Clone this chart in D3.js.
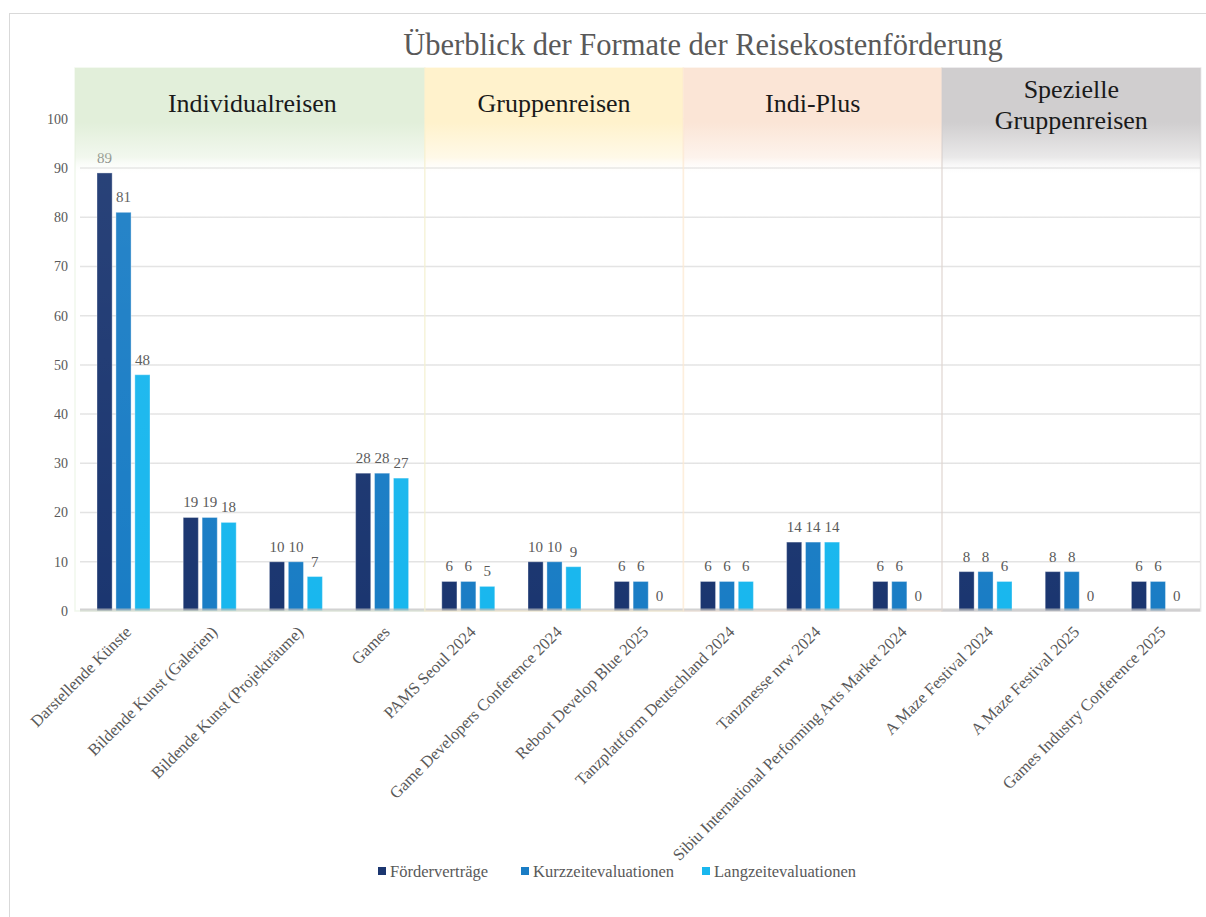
<!DOCTYPE html>
<html>
<head>
<meta charset="utf-8">
<script src="https://cdn.jsdelivr.net/npm/d3@7"></script>
<style>
  body { margin: 0; background: #fff; }
  svg { display: block; font-family: "Liberation Serif", "DejaVu Serif", serif; }
</style>
</head>
<body>
<svg></svg>
<script>
const width = 1206;
const height = 917;
const margin = ({top: 118.8, right: 6, bottom: 306, left: 80});

const categories = [
    "Darstellende Künste", "Bildende Kunst (Galerien)", "Bildende Kunst (Projekträume)", "Games",
    "PAMS Seoul 2024", "Game Developers Conference 2024", "Reboot Develop Blue 2025",
    "Tanzplattform Deutschland 2024", "Tanzmesse nrw 2024", "Sibiu International Performing Arts Market  2024",
    "A Maze Festival 2024", "A Maze Festival 2025", "Games Industry Conference 2025"
];
const seriesNames = ["Förderverträge", "Kurzzeitevaluationen", "Langzeitevaluationen"];
const foerdervertraege = [89, 19, 10, 28, 6, 10, 6, 6, 14, 6, 8, 8, 6];
const kurzzeit = [81, 19, 10, 28, 6, 10, 6, 6, 14, 6, 8, 8, 6];
const langzeit = [48, 18, 7, 27, 5, 9, 0, 6, 14, 0, 6, 0, 0];
const yTicks = [0, 10, 20, 30, 40, 50, 60, 70, 80, 90, 100];
const groupNames = [["Individualreisen"], ["Gruppenreisen"], ["Indi-Plus"], ["Spezielle", "Gruppenreisen"]];
const groupFirst = [0, 4, 7, 10];
const groupLast = [3, 6, 9, 12];
const groupColors = ["#e2efda", "#fff2cc", "#fbe5d6", "#d0cecf"];
const seriesColors = ["#1b3670", "#1a7dc5", "#19b7ee"];

const data = categories.map((c, i) => ({
    cat: c,
    values: [foerdervertraege[i], kurzzeit[i], langzeit[i]]
}));

const svg = d3.select("svg")
    .attr("width", width)
    .attr("height", height)
    .attr("viewBox", [0, 0, width, height]);

// outer frame
svg.append("rect")
    .attr("x", 9.5).attr("y", 13.5)
    .attr("width", 1200).attr("height", 930)
    .attr("fill", "none")
    .attr("stroke", "#d9d9d9");

const x = d3.scaleBand()
    .domain(categories)
    .range([margin.left, 1200.6]);

const x1 = d3.scaleBand()
    .domain(seriesNames)
    .range([17, 70])
    .paddingInner(0.2);

const y = d3.scaleLinear()
    .domain([0, 100])
    .range([height - margin.bottom, margin.top]);

// gridlines
svg.append("g")
    .selectAll("line")
    .data(yTicks.filter(d => d > 0))
    .join("line")
    .attr("x1", margin.left)
    .attr("x2", 1200)
    .attr("y1", d => y(d))
    .attr("y2", d => y(d))
    .attr("stroke", "#e3e3e3")
    .attr("stroke-width", 1.5);

// y tick labels
svg.append("g")
    .selectAll("text")
    .data(yTicks)
    .join("text")
    .attr("x", 68)
    .attr("y", d => y(d))
    .attr("dy", "0.35em")
    .attr("text-anchor", "end")
    .attr("fill", "#595959")
    .style("font-size", "14px")
    .text(d => d);

// bars
const groups = svg.append("g")
    .selectAll("g")
    .data(data)
    .join("g")
    .attr("transform", d => `translate(${x(d.cat)},0)`);

groups.selectAll("rect")
    .data(d => d.values.map((v, k) => ({key: seriesNames[k], v, k})))
    .join("rect")
    .attr("x", d => x1(d.key))
    .attr("width", x1.bandwidth())
    .attr("y", d => y(d.v))
    .attr("height", d => y(0) - y(d.v))
    .attr("fill", d => seriesColors[d.k])
    .attr("stroke", "#ffffff")
    .attr("stroke-opacity", 0.35)
    .attr("stroke-width", 1);

groups.selectAll("text")
    .data(d => d.values.map((v, k) => ({key: seriesNames[k], v, k})))
    .join("text")
    .attr("x", d => x1(d.key) + x1.bandwidth() / 2)
    .attr("y", d => y(d.v) - 10)
    .attr("text-anchor", "middle")
    .attr("fill", "#595959")
    .style("font-size", "15px")
    .text(d => d.v);

// axis line
svg.append("line")
    .attr("x1", margin.left)
    .attr("x2", 1200)
    .attr("y1", y(0) - 1)
    .attr("y2", y(0) - 1)
    .attr("stroke", "#bfbfbf")
    .attr("stroke-opacity", 0.7)
    .attr("stroke-width", 3);

// group bands with fading header
const defs = svg.append("defs");
groupColors.forEach((c, i) => {
    const g = defs.append("linearGradient")
        .attr("id", "band" + i)
        .attr("x1", 0).attr("y1", 0).attr("x2", 0).attr("y2", 1);
    g.append("stop").attr("offset", "0%").attr("stop-color", c).attr("stop-opacity", 1);
    g.append("stop").attr("offset", "10%").attr("stop-color", c).attr("stop-opacity", 1);
    g.append("stop").attr("offset", "16.5%").attr("stop-color", c).attr("stop-opacity", 0.45);
    g.append("stop").attr("offset", "19.5%").attr("stop-color", "#ffffff").attr("stop-opacity", 0.06);
    g.append("stop").attr("offset", "100%").attr("stop-color", "#ffffff").attr("stop-opacity", 0);
});

const bandTop = 68;
const bands = svg.append("g")
    .selectAll("g")
    .data(groupNames.map((n, i) => ({
        lines: n,
        x0: x(categories[groupFirst[i]]),
        x1: x(categories[groupLast[i]]) + x.bandwidth(),
        i
    })))
    .join("g");

bands.append("rect")
    .attr("x", d => d.x0 - (d.i === 0 ? 5 : 0))
    .attr("y", bandTop)
    .attr("width", d => d.x1 - d.x0 + (d.i === 0 ? 5 : 0))
    .attr("height", y(0) - bandTop)
    .attr("fill", d => `url(#band${d.i})`)
    .attr("stroke", d => groupColors[d.i])
    .attr("stroke-opacity", 0.5)
    .attr("stroke-width", 1.5);

bands.append("text")
    .attr("x", d => (d.x0 + d.x1) / 2)
    .attr("y", d => d.lines.length > 1 ? 98 : 112)
    .attr("text-anchor", "middle")
    .attr("fill", "#1a1a1a")
    .style("font-size", "26px")
    .selectAll("tspan")
    .data(d => d.lines.map((l, k) => ({l, k, cx: (d.x0 + d.x1) / 2})))
    .join("tspan")
    .attr("x", d => d.cx)
    .attr("dy", d => d.k === 0 ? 0 : 31)
    .text(d => d.l);

// x labels
svg.append("g")
    .selectAll("text")
    .data(categories)
    .join("text")
    .attr("transform", d => `translate(${x(d) + x.bandwidth() / 2 + 9},${y(0) + 22}) rotate(-45)`)
    .attr("text-anchor", "end")
    .attr("fill", "#595959")
    .style("font-size", "16.5px")
    .text(d => d);

// title
svg.append("text")
    .attr("x", 703)
    .attr("y", 55)
    .attr("text-anchor", "middle")
    .attr("fill", "#595959")
    .style("font-size", "30.5px")
    .text("Überblick der Formate der Reisekostenförderung");

// legend
const legendX = [378, 521, 702];
const legend = svg.append("g")
    .selectAll("g")
    .data(seriesNames)
    .join("g")
    .attr("transform", (d, i) => `translate(${legendX[i]},871)`);

legend.append("rect")
    .attr("x", 0).attr("y", -4)
    .attr("width", 8).attr("height", 8)
    .attr("fill", (d, i) => seriesColors[i]);

legend.append("text")
    .attr("x", 12)
    .attr("dy", "0.35em")
    .attr("fill", "#595959")
    .style("font-size", "16.5px")
    .text(d => d);
</script>
</body>
</html>
